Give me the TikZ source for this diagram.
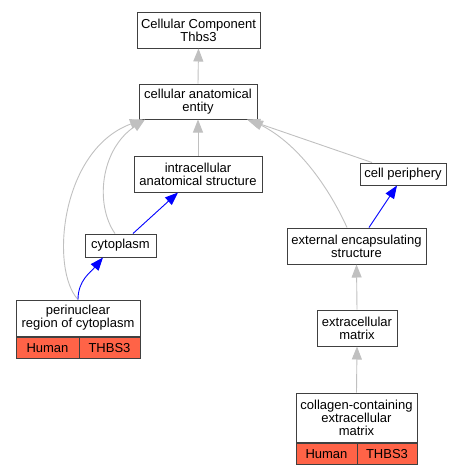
\documentclass[tikz,border=0pt]{standalone}
\usepackage{fontspec}
\setmainfont{Liberation Sans}
\usepackage{xcolor}
\usetikzlibrary{arrows.meta}
\definecolor{edgegray}{HTML}{C0C0C0}
\definecolor{framegray}{HTML}{404040}
\definecolor{tomato}{HTML}{FF6347}
\tikzset{
    term-box/.style = {draw=framegray, fill=white, line width=1pt, rectangle, align=center, inner sep=2pt, font=\fontsize{13}{13}\selectfont},
    term-cell/.style = {term-box, fill=tomato, minimum height=21.5pt},
    is-a/.style = {draw=edgegray, line width=0.9pt, -{Triangle[length=13pt,width=10pt]}},
    part-of/.style = {draw=blue, line width=0.9pt, -{Triangle[length=13pt,width=10pt]}},
}
\begin{document}
\begin{tikzpicture}[x=1pt, y=-1pt]
\useasboundingbox (0,0) rectangle (461,475);
% terms
\node [term-box, minimum width=123pt, minimum height=36pt] (component) at (198.5,30) {Cellular Component\\Thbs3};
\node [term-box, minimum width=118pt, minimum height=35pt] (entity) at (198,101.5) {cellular anatomical\\entity};
\node [term-box, minimum width=128pt, minimum height=36pt] (intracellular) at (198,174) {intracellular\\anatomical structure};
\node [term-box, minimum width=86pt, minimum height=22pt] (periphery) at (403,174) {cell periphery};
\node [term-box, minimum width=71pt, minimum height=23pt] (cytoplasm) at (120.5,245.5) {cytoplasm};
\node [term-box, minimum width=139pt, minimum height=36pt] (encapsulating) at (356.5,246) {external encapsulating\\structure};
\node [term-box, minimum width=124pt, minimum height=36pt] (perinuclear) at (78,318) {perinuclear\\region of cytoplasm};
\node [term-box, minimum width=80pt, minimum height=36pt] (matrix) at (357,328) {extracellular\\matrix};
\node [term-box, minimum width=121pt, minimum height=49pt] (collagen) at (356.5,417.5) {collagen-containing\\extracellular\\matrix};
% annotation rows
\node [term-cell, minimum width=63pt, anchor=north west] (perinuclear-human) at (perinuclear.south west) {Human};
\node [term-cell, minimum width=61pt, anchor=north east] (perinuclear-gene) at (perinuclear.south east) {THBS3};
\node [term-cell, minimum width=61pt, anchor=north west] (collagen-human) at (collagen.south west) {Human};
\node [term-cell, minimum width=60pt, anchor=north east] (collagen-gene) at (collagen.south east) {THBS3};
% is_a
\draw [is-a] (entity.north) -- (component.south);
\draw [is-a] (intracellular.north) -- (entity.south);
\draw [is-a] ([xshift=-31pt]periphery.north) -- ([xshift=49pt]entity.south);
\draw [is-a] ([xshift=-9.5pt]encapsulating.north) .. controls (330,190) and (300,145) .. ([xshift=52pt]entity.south);
\draw [is-a] ([xshift=-5.5pt]cytoplasm.north) .. controls (95,205) and (100,150) .. ([xshift=-53pt]entity.south);
\draw [is-a] (perinuclear.north) .. controls (50,270) and (60,150) .. ([xshift=-55pt]entity.south);
\draw [is-a] (matrix.north) -- (encapsulating.south);
\draw [is-a] (collagen.north) -- (matrix.south);
% part_of
\draw [part-of] ([xshift=12.5pt]cytoplasm.north) -- ([xshift=-20pt]intracellular.south);
\draw [part-of] ([xshift=12.5pt]encapsulating.north) -- ([xshift=-6pt]periphery.south);
\draw [part-of] (perinuclear.north) to[out=90, in=-130] ([xshift=-17.5pt]cytoplasm.south);
\end{tikzpicture}
\end{document}
